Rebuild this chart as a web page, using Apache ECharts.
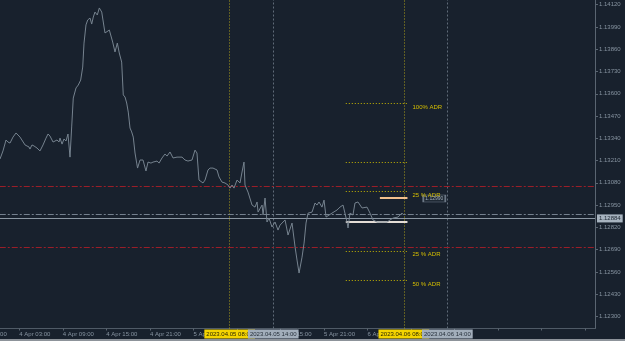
<!DOCTYPE html>
<html>
<head>
<meta charset="utf-8">
<script src="https://cdn.jsdelivr.net/npm/echarts@6/dist/echarts.min.js"></script>
<style>
html, body { margin: 0; padding: 0; background: #18212d; }
#chart { width: 625px; height: 341px; }
</style>
</head>
<body>
<div id="chart"></div>
<script>
// hours since 2023.04.04 00:00
var hours = [
	0.34, 0.75, 1.17, 1.44, 1.72, 2.13, 2.55, 2.82, 3.10, 3.37, 3.79, 4.06, 4.34, 4.47, 4.75, 5.03,
	5.44, 5.85, 6.27, 6.68, 6.96, 7.23, 7.65, 7.92, 8.20, 8.47, 8.61, 8.89, 9.16, 9.44, 9.71, 9.99,
	10.22, 10.44, 10.82, 11.13, 11.46, 11.74, 11.92, 12.19, 12.43, 12.75, 12.98, 13.20, 13.43, 13.75, 14.03, 14.36,
	14.58, 14.81, 15.05, 15.41, 15.60, 15.87, 16.19, 16.51, 16.78, 17.11, 17.33, 17.57, 17.80, 18.02, 18.26, 18.49,
	18.71, 18.95, 19.18, 19.30, 19.64, 20.05, 20.46, 20.74, 21.15, 21.43, 21.98, 22.26, 22.67, 23.08, 23.36, 23.77,
	24.19, 24.74, 25.43, 25.84, 26.25, 26.80, 27.22, 27.49, 27.77, 28.04, 28.32, 28.60, 29.01, 29.29, 29.70, 30.25,
	30.53, 30.94, 31.35, 31.77, 32.04, 32.32, 32.59, 33.01, 33.42, 33.70, 33.97, 34.11, 34.52, 35.08, 35.49, 35.77,
	35.91, 36.46, 36.60, 36.87, 37.14, 37.42, 37.83, 38.25, 38.66, 38.94, 39.63, 40.04, 40.59, 41.01, 41.28, 41.56,
	41.97, 42.25, 42.52, 42.80, 43.35, 43.76, 44.03, 44.31, 44.72, 45.00, 45.28, 45.55, 46.10, 46.79, 47.20, 47.62,
	48.17, 48.31, 48.58, 48.99, 49.27, 49.68, 50.24, 50.93, 51.34, 51.75, 52.31, 53.00, 53.69, 54.10, 54.51, 55.20,
	55.75, 56.00
];
var prices = [
	1.13219, 1.13266, 1.13330, 1.13318, 1.13312, 1.13347, 1.13371, 1.13365, 1.13347, 1.13336, 1.13301, 1.13312, 1.13289, 1.13277, 1.13301, 1.13295,
	1.13283, 1.13266, 1.13301, 1.13341, 1.13365, 1.13353, 1.13318, 1.13324, 1.13330, 1.13318, 1.13341, 1.13306, 1.13336, 1.13324, 1.13365, 1.13230,
	1.13406, 1.13575, 1.13634, 1.13651, 1.13680, 1.13756, 1.13896, 1.14002, 1.14031, 1.14042, 1.14007, 1.14048, 1.14077, 1.14060, 1.14101, 1.14077,
	1.14072, 1.13955, 1.13961, 1.13972, 1.13943, 1.13902, 1.13844, 1.13896, 1.13838, 1.13785, 1.13593, 1.13581, 1.13546, 1.13493, 1.13400, 1.13377,
	1.13347, 1.13254, 1.13195, 1.13166, 1.13213, 1.13213, 1.13149, 1.13201, 1.13195, 1.13201, 1.13207, 1.13195, 1.13225, 1.13248, 1.13236, 1.13260,
	1.13225, 1.13230, 1.13230, 1.13213, 1.13207, 1.13213, 1.13271, 1.13254, 1.13096, 1.13096, 1.13079, 1.13096, 1.13155, 1.13166, 1.13166, 1.13155,
	1.13114, 1.13084, 1.13079, 1.13067, 1.13049, 1.13067, 1.13049, 1.13096, 1.13079, 1.13143, 1.13201, 1.13067, 1.13026, 1.12950, 1.12938, 1.12968,
	1.12909, 1.12950, 1.12892, 1.12991, 1.12851, 1.12874, 1.12822, 1.12851, 1.12804, 1.12833, 1.12863, 1.12775, 1.12845, 1.12705, 1.12629, 1.12553,
	1.12646, 1.12728, 1.12845, 1.12903, 1.12909, 1.12962, 1.12950, 1.12968, 1.12938, 1.12979, 1.12880, 1.12874, 1.12903, 1.12921, 1.12938, 1.12950,
	1.12851, 1.12816, 1.12903, 1.12892, 1.12962, 1.12968, 1.12933, 1.12938, 1.12903, 1.12863, 1.12851, 1.12851, 1.12851, 1.12863, 1.12874, 1.12880,
	1.12903, 1.12892
];

// 水平参考线
var redLevels = [1.13057, 1.12703];
var greyLevel = 1.12896;
var bidLevel = 1.12872;
var bidText = '1.12884';

// ADR 区间
var adrLevels = [1.13544, 1.13199, 1.13028, 1.12683, 1.12512];
var adrNames = ['100% ADR', '', '25 % ADR', '25 % ADR', '50 % ADR'];
var adrFrom = 48;
var adrTo = 56.5;
var openLevel = 1.12855;
var highLevel = 1.12991;
var highFrom = 52.7;
var boxText = '1.12990';
var boxAt = [60.2, 1.12988];

// 竖线 (时间)
var sessionHours = [32, 56];
var sessionNames = ['2023.04.05 08:00', '2023.04.06 08:00'];
var closeHours = [38, 62];
var closeNames = ['2023.04.05 14:00', '2023.04.06 14:00'];

var lastHour = 56;

function pad(n) { return (n < 10 ? '0' : '') + n; }

function fmtTime(h) {
	if (h > lastHour) return '';
	var d = 4 + Math.floor(h / 24);
	var hh = ((h % 24) + 24) % 24;
	return d + ' Apr ' + pad(hh) + ':00';
}

var lineData = hours.map(function (h, i) { return [h, prices[i]]; });

// 整宽的水平线
var fullLines = [];
redLevels.forEach(function (v) {
	fullLines.push({ yAxis: v, lineStyle: { color: '#9a1e28', type: [6, 2, 2, 2], width: 1 } });
});
fullLines.push({ yAxis: greyLevel, lineStyle: { color: '#74808e', type: [6, 2, 2, 2], width: 1 } });
fullLines.push({
	yAxis: bidLevel,
	lineStyle: { color: '#8a96a2', type: 'solid', width: 1 },
	label: {
		show: true, position: 'end', distance: 2, formatter: bidText,
		backgroundColor: '#a7b3bf', color: '#1b2530', fontSize: 6, padding: [1, 2, 1, 2]
	}
});

// ADR 短线
var adrLines = [];
adrLevels.forEach(function (v, i) {
	adrLines.push([
		{
			coord: [adrFrom, v],
			lineStyle: { color: '#c8b800', type: [1, 2], width: 1 },
			label: {
				show: adrNames[i] !== '', position: 'end', distance: 5, formatter: adrNames[i],
				color: '#d6bf00', fontSize: 6, offset: [0, 4]
			}
		},
		{ coord: [adrTo, v] }
	]);
});
adrLines.push([
	{ coord: [adrFrom, openLevel], lineStyle: { color: '#e4ddd6', type: 'solid', width: 2 } },
	{ coord: [adrTo, openLevel] }
]);
adrLines.push([
	{ coord: [highFrom, highLevel], lineStyle: { color: '#f2c08e', type: 'solid', width: 2 } },
	{ coord: [adrTo, highLevel] }
]);

function vLines(hs, names, color, type, bg, fg) {
	return hs.map(function (h, i) {
		return {
			xAxis: h,
			lineStyle: { color: color, type: type, width: 1 },
			label: {
				show: true, position: 'start', distance: 1, formatter: names[i],
				backgroundColor: bg, color: fg, fontSize: 6, lineHeight: 7,
				padding: [1, 2, 1, 2]
			}
		};
	});
}

var chart = echarts.init(document.getElementById('chart'));

chart.setOption({
	backgroundColor: '#18212d',
	animation: false,
	textStyle: { fontFamily: 'Liberation Sans' },
	grid: [
		{ left: -24.23, right: 30, top: -17.56, height: 356.2, outerBoundsMode: 'none', containLabel: false },
		{ left: -24.23, right: 30, top: 0, height: 328.5, outerBoundsMode: 'none', containLabel: false }
	],
	xAxis: [
		{ gridIndex: 0, type: 'value', min: -3, max: 82.35, show: false },
		{
			gridIndex: 1, type: 'value', min: -3, max: 82.35, interval: 6,
			axisLine: { show: true, onZero: false, lineStyle: { color: '#4f5a66' } },
			axisTick: { show: true, length: 2, lineStyle: { color: '#5a6571' } },
			axisLabel: {
				formatter: fmtTime, align: 'left', margin: 3, fontSize: 6, color: '#8794a1',
				showMinLabel: true, showMaxLabel: false
			},
			splitLine: { show: false }
		}
	],
	yAxis: [
		{
			gridIndex: 0, type: 'value', position: 'right',
			min: 1.12170, max: 1.14250, interval: 0.0013,
			axisLine: { show: false, onZero: false },
			axisTick: { show: true, length: 3, lineStyle: { color: '#5a6571' } },
			axisLabel: {
				formatter: function (v) { return v.toFixed(5); },
				margin: 4, fontSize: 6, color: '#8794a1',
				showMinLabel: false, showMaxLabel: false
			},
			splitLine: { show: false }
		},
		{
			gridIndex: 1, type: 'value', position: 'right', min: 0, max: 1,
			axisLine: { show: true, onZero: false, lineStyle: { color: '#5a6571' } },
			axisTick: { show: false },
			axisLabel: { show: false },
			splitLine: { show: false }
		}
	],
	graphic: [
		{ type: 'rect', left: 0, top: 339, shape: { width: 625, height: 2 }, style: { fill: '#8d939a' } }
	],
	series: [
		{
			type: 'line',
			xAxisIndex: 1, yAxisIndex: 1,
			data: [],
			silent: true,
			z: 2,
			markLine: {
				symbol: ['none', 'none'],
				silent: true,
				precision: 5,
				data: vLines(sessionHours, sessionNames, '#a89c1a', [1, 2], '#f4d400', '#2b2600')
			}
		},
		{
			type: 'line',
			xAxisIndex: 1, yAxisIndex: 1,
			data: [],
			silent: true,
			z: 3,
			markLine: {
				symbol: ['none', 'none'],
				silent: true,
				precision: 5,
				data: vLines(closeHours, closeNames, '#5f6b78', [2, 2], '#a2aebb', '#26303b')
			}
		},
		{
			type: 'line',
			xAxisIndex: 0, yAxisIndex: 0,
			data: [],
			silent: true,
			z: 3,
			markLine: {
				symbol: ['none', 'none'],
				silent: true,
				precision: 5,
				label: { show: false },
				data: fullLines
			}
		},
		{
			type: 'line',
			xAxisIndex: 0, yAxisIndex: 0,
			data: [],
			silent: true,
			z: 4,
			markLine: {
				symbol: ['none', 'none'],
				silent: true,
				precision: 5,
				label: { show: false },
				data: adrLines
			},
			markPoint: {
				symbol: 'rect',
				symbolSize: [22, 7],
				silent: true,
				itemStyle: { color: '#1f2934', borderColor: '#6c7886', borderWidth: 1 },
				label: { show: true, position: 'inside', formatter: boxText, fontSize: 5, color: '#a0acb8' },
				data: [{ coord: boxAt }]
			}
		},
		{
			type: 'line',
			xAxisIndex: 0, yAxisIndex: 0,
			data: lineData,
			symbol: 'none',
			z: 5,
			lineStyle: { color: '#76838f', width: 1 }
		}
	]
});
</script>
</body>
</html>
